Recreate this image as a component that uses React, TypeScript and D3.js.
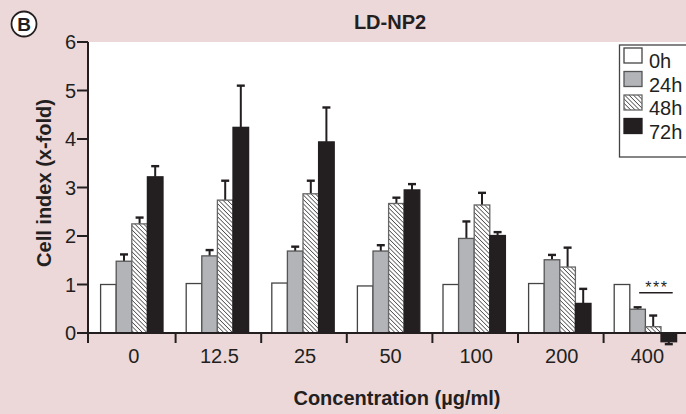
import * as d3 from 'd3';

const categories = ['0', '12.5', '25', '50', '100', '200', '400'];
const seriesNames = ['0h', '24h', '48h', '72h'];

// mean cell index (x-fold) per concentration
const values0h = [1.0, 1.02, 1.03, 0.97, 1.0, 1.02, 1.0];
const values24h = [1.48, 1.59, 1.69, 1.69, 1.95, 1.51, 0.49];
const values48h = [2.25, 2.74, 2.87, 2.67, 2.64, 1.36, 0.13];
const values72h = [3.22, 4.24, 3.94, 2.95, 2.01, 0.61, -0.18];

// error bars (one-sided)
const err0h = [0, 0, 0, 0, 0, 0, 0];
const err24h = [0.14, 0.12, 0.09, 0.12, 0.35, 0.1, 0.04];
const err48h = [0.13, 0.4, 0.27, 0.12, 0.25, 0.4, 0.23];
const err72h = [0.22, 0.86, 0.71, 0.12, 0.07, 0.3, 0.05];

const yTicks = [0, 1, 2, 3, 4, 5, 6];

const W = 686;
const H = 414;
const FONT = '"Liberation Sans", Arial, Helvetica, sans-serif';
const INK = '#231f20';
const PINK = '#ecd8d9';

const fills = ['#ffffff', '#b3b4b8', 'url(#hatch)', INK];
const strokes = ['#444', '#555', '#666', INK];

export default function App() {
  const plot = { left: 88, top: 42, bottom: 333, right: W };
  const bandStart = 90;
  const bandW = 85.6;

  const x = d3.scaleBand<string>()
    .domain(categories)
    .range([bandStart, bandStart + bandW * categories.length])
    .padding(0);

  const inner = d3.scaleBand<string>()
    .domain(seriesNames)
    .range([10.6, 10.6 + 62.4])
    .padding(0);

  const y = d3.scaleLinear().domain([0, 6]).range([plot.bottom, plot.top]);

  const series = [
    { name: '0h', values: values0h, errs: err0h },
    { name: '24h', values: values24h, errs: err24h },
    { name: '48h', values: values48h, errs: err48h },
    { name: '72h', values: values72h, errs: err72h },
  ];

  // tick marks between categories (the first one coincides with the y axis)
  const boundaries = d3.range(1, categories.length + 1).map(i => bandStart + i * x.bandwidth());

  const last = categories[categories.length - 1];
  const bw = inner.bandwidth();
  const sigX1 = (x(last) ?? 0) + inner('24h')! + bw * 0.6;
  const sigX2 = (x(last) ?? 0) + inner('72h')! + bw * 0.75;
  const sigY = y(0.83);

  return (
    <div style={{ position: 'fixed', left: 0, top: 0, width: W, height: H, overflow: 'hidden' }}>
      <svg width={W} height={H} style={{ display: 'block', fontFamily: FONT }}>
        <defs>
          <pattern id="hatch" patternUnits="userSpaceOnUse" width="3.1" height="3.1"
            patternTransform="rotate(-45)">
            <rect width="3.1" height="3.1" fill="#fff" />
            <line x1="0" y1="0" x2="0" y2="3.1" stroke={INK} strokeWidth="1.25" />
          </pattern>
        </defs>

        <rect x={0} y={0} width={W} height={H} fill={PINK} />
        <rect x={plot.left} y={plot.top} width={plot.right - plot.left} height={plot.bottom - plot.top} fill="#fff" />

        {/* panel letter */}
        <circle cx={24} cy={24} r={12.5} fill="#fff" stroke={INK} strokeWidth={1.8} />
        <text x={24} y={31} textAnchor="middle" fontSize={19} fontWeight="bold" fill={INK}>B</text>

        <text x={390} y={29} textAnchor="middle" fontSize={20} fontWeight="bold" fill={INK}>LD-NP2</text>

        {/* bars */}
        {categories.map((c, ci) => (
          <g key={c} transform={`translate(${x(c)},0)`}>
            {series.map((s, si) => {
              const v = s.values[ci];
              const bx = inner(s.name)!;
              const top = Math.min(y(v), y(0));
              const h = Math.abs(y(v) - y(0));
              const e = s.errs[ci];
              const ey = v >= 0 ? y(v + e) : y(v - e);
              const cx = bx + bw / 2;
              return (
                <g key={s.name}>
                  {e > 0 && (
                    <g stroke={INK} strokeWidth={2}>
                      <line x1={cx} x2={cx} y1={y(v)} y2={ey} />
                      <line x1={cx - 4} x2={cx + 4} y1={ey} y2={ey} strokeWidth={2.4} />
                    </g>
                  )}
                  <rect x={bx} y={top} width={bw} height={h}
                    fill={fills[si]} stroke={strokes[si]} strokeWidth={1.3} />
                </g>
              );
            })}
          </g>
        ))}

        {/* significance */}
        <line x1={sigX1} x2={sigX2} y1={sigY} y2={sigY} stroke={INK} strokeWidth={1.6} />
        <text x={(sigX1 + sigX2) / 2 + 1} y={sigY + 0.5} textAnchor="middle" fontSize={16}
          letterSpacing={1.5} fill={INK}>***</text>

        {/* axes */}
        <line x1={plot.left} x2={plot.left} y1={plot.top} y2={plot.bottom + 10} stroke={INK} strokeWidth={2} />
        <line x1={plot.left} x2={plot.right} y1={plot.bottom} y2={plot.bottom} stroke={INK} strokeWidth={2} />
        {yTicks.map(t => (
          <g key={t}>
            <line x1={plot.left - 11} x2={plot.left} y1={y(t)} y2={y(t)} stroke={INK} strokeWidth={2} />
            <text x={plot.left - 12} y={y(t) + 7} textAnchor="end" fontSize={20} fill={INK}>{t}</text>
          </g>
        ))}
        {boundaries.map((bx, i) => (
          <line key={i} x1={bx} x2={bx} y1={plot.bottom} y2={plot.bottom + 10} stroke={INK} strokeWidth={2} />
        ))}
        {categories.map(c => (
          <text key={c} x={(x(c) ?? 0) + x.bandwidth() / 2 + 1} y={363} textAnchor="middle" fontSize={20} fill={INK}>{c}</text>
        ))}

        <text transform={`translate(51,${183}) rotate(-90)`} textAnchor="middle" fontSize={20} fontWeight="bold" fill={INK}>
          Cell index (x-fold)
        </text>
        <text x={397} y={405} textAnchor="middle" fontSize={20} fontWeight="bold" fill={INK}>
          Concentration (µg/ml)
        </text>

        {/* legend */}
        <rect x={619.5} y={45} width={80} height={112} fill="#fff" stroke="#444" strokeWidth={1.3} />
        {seriesNames.map((n, i) => (
          <g key={n} transform={`translate(624,${48 + i * 23.5})`}>
            <rect x={0} y={0} width={18} height={15} fill={fills[i]} stroke={strokes[i]} strokeWidth={1.3} />
            <text x={25} y={20} fontSize={20} fill={INK}>{n}</text>
          </g>
        ))}
      </svg>
    </div>
  );
}
